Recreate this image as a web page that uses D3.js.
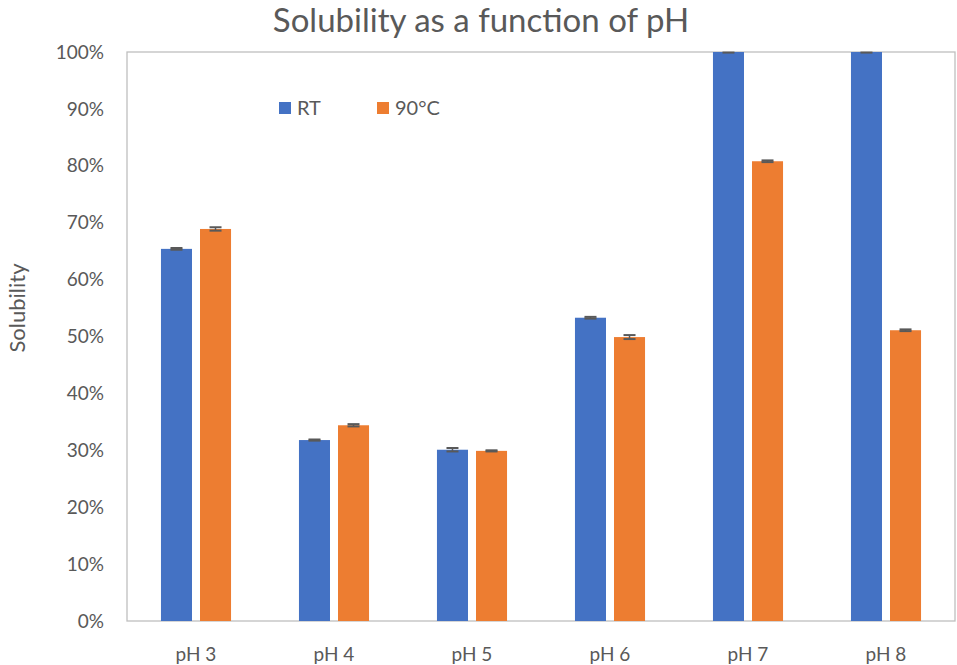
<!DOCTYPE html>
<html>
<head>
<meta charset="utf-8">
<script src="https://cdn.jsdelivr.net/npm/d3@7"></script>
<style>
  body { margin: 0; background: #fff; }
  text { font-family: Lato, "Open Sans", sans-serif; fill: #595959; }
</style>
</head>
<body>
<div id="chart"></div>
<script>
// chart data
var categories = ["pH 3", "pH 4", "pH 5", "pH 6", "pH 7", "pH 8"];
var seriesNames = ["RT", "90°C"];
var rtValues = [0.654, 0.318, 0.301, 0.533, 1.0, 1.0];
var hotValues = [0.689, 0.344, 0.299, 0.499, 0.808, 0.511];
var rtErrors = [0.0015, 0.001, 0.003, 0.0015, 0.001, 0.001];
var hotErrors = [0.003, 0.002, 0.001, 0.0035, 0.0015, 0.0015];
var yTicks = [0, 0.1, 0.2, 0.3, 0.4, 0.5, 0.6, 0.7, 0.8, 0.9, 1.0];
var colors = ["#4472c4", "#ed7d31"];

var width = 957, height = 665;
var margin = {left: 127, right: 2, top: 52, bottom: 44};

var svg = d3.select("#chart").append("svg")
    .attr("width", width)
    .attr("height", height);

var x = d3.scaleBand()
    .domain(categories)
    .range([margin.left, width - margin.right]);

var xInner = d3.scaleBand()
    .domain(seriesNames)
    .range([0, x.bandwidth()])
    .paddingInner(0.205)
    .paddingOuter(0.87);

var y = d3.scaleLinear()
    .domain([0, 1])
    .range([height - margin.bottom, margin.top]);

// plot area border
svg.append("rect")
    .attr("x", margin.left)
    .attr("y", margin.top)
    .attr("width", width - margin.right - margin.left)
    .attr("height", height - margin.bottom - margin.top)
    .style("fill", "none")
    .style("stroke", "#bfbfbf")
    .attr("stroke-width", 1.3);

// build rows from arrays
var rows = [];
categories.forEach(function(c, i){
    rows.push({cat: c, s: seriesNames[0], v: rtValues[i], e: rtErrors[i], col: colors[0]});
    rows.push({cat: c, s: seriesNames[1], v: hotValues[i], e: hotErrors[i], col: colors[1]});
});

svg.append("g").selectAll("rect")
    .data(rows)
    .enter()
    .append("rect")
    .attr("x", function(d){ return x(d.cat) + xInner(d.s); })
    .attr("y", function(d){ return y(d.v); })
    .attr("width", xInner.bandwidth())
    .attr("height", function(d){ return y(0) - y(d.v); })
    .style("fill", function(d){ return d.col; });

// error bars
var eb = svg.append("g").selectAll("g")
    .data(rows)
    .enter()
    .append("g")
    .attr("transform", function(d){ return "translate(" + (x(d.cat) + xInner(d.s) + xInner.bandwidth()/2) + ",0)"; });

eb.append("line")
    .attr("x1", 0).attr("x2", 0)
    .attr("y1", function(d){ return y(Math.min(1, d.v + d.e)); })
    .attr("y2", function(d){ return y(d.v - d.e); })
    .style("stroke", "#595959").attr("stroke-width", 1.5);

eb.selectAll("line.cap")
    .data(function(d){ return [d.v + d.e, d.v - d.e].filter(function(v){ return v <= 1; }); })
    .enter()
    .append("line")
    .attr("class", "cap")
    .attr("x1", -6).attr("x2", 6)
    .attr("y1", function(v){ return y(v); })
    .attr("y2", function(v){ return y(v); })
    .style("stroke", "#595959").attr("stroke-width", 2);

// y axis labels
svg.append("g").selectAll("text")
    .data(yTicks)
    .enter()
    .append("text")
    .attr("x", 104)
    .attr("y", function(d){ return y(d); })
    .attr("dy", "0.35em")
    .attr("text-anchor", "end")
    .attr("font-size", "19px")
    .text(d3.format(".0%"));

// x labels
svg.append("g").selectAll("text")
    .data(categories)
    .enter()
    .append("text")
    .attr("x", function(d){ return x(d) + x.bandwidth()/2; })
    .attr("y", 654)
    .attr("dy", "0.35em")
    .attr("text-anchor", "middle")
    .attr("font-size", "19px")
    .text(function(d){ return d; });

// titles
svg.append("text")
    .attr("x", 481)
    .attr("y", 20)
    .attr("dy", "0.35em")
    .attr("text-anchor", "middle")
    .attr("font-size", "33px")
    .text("Solubility as a function of pH");

svg.append("text")
    .attr("transform", "translate(17,308) rotate(-90)")
    .attr("dy", "0.35em")
    .attr("text-anchor", "middle")
    .attr("font-size", "22px")
    .text("Solubility");

// legend
var legendX = [279, 377];
var legend = svg.append("g").selectAll("g")
    .data(seriesNames)
    .enter()
    .append("g")
    .attr("transform", function(d, i){ return "translate(" + legendX[i] + ",108)"; });

legend.append("rect")
    .attr("x", 0).attr("y", -6)
    .attr("width", 12).attr("height", 12)
    .style("fill", function(d, i){ return colors[i]; });

legend.append("text")
    .attr("x", 18)
    .attr("dy", "0.35em")
    .attr("font-size", "20px")
    .text(function(d){ return d; });
</script>
</body>
</html>
